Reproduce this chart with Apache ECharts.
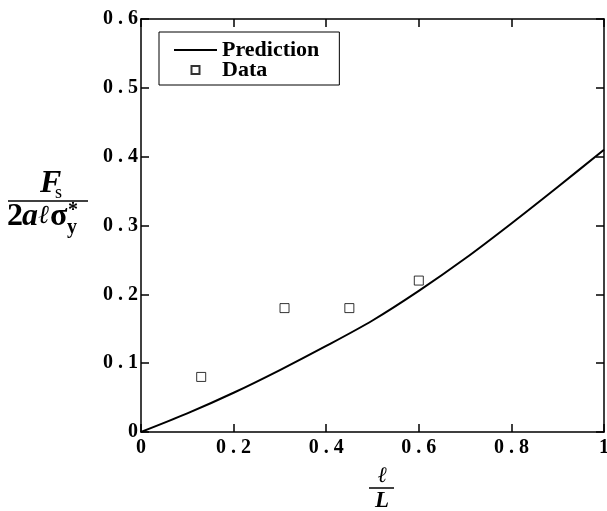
<!DOCTYPE html>
<html>
<head>
<meta charset="utf-8">
<script src="https://cdn.jsdelivr.net/npm/echarts@6/dist/echarts.min.js"></script>
<style>
  html, body { margin: 0; padding: 0; background: #fff; }
  #chart { width: 607px; height: 511px; }
</style>
</head>
<body>
<div id="chart"></div>
<script>
// prediction curve
const predX = [0, 0.1, 0.2, 0.3, 0.4, 0.5, 0.6, 0.7, 0.8, 0.9, 1.0];
const predY = [0, 0.027, 0.057, 0.09, 0.125, 0.162, 0.205, 0.252, 0.303, 0.356, 0.41];

// measured points
const dataX = [0.13, 0.31, 0.45, 0.6];
const dataY = [0.08, 0.18, 0.18, 0.22];

const seriesNames = ['Prediction', 'Data'];

const serif = "'Liberation Serif', 'DejaVu Serif', serif";

document.addEventListener('DOMContentLoaded', function () {
    const chart = echarts.init(document.getElementById('chart'));

    const tickFmt = function (v) {
        if (v === 0) return '0';
        if (v === 1) return '1';
        return v.toFixed(1).split('').join(' ');
    };

    const axisCommon = {
        type: 'value',
        axisLine: { show: true, onZero: false, lineStyle: { color: '#000', width: 1.5 } },
        axisTick: { show: true, inside: true, length: 8, lineStyle: { color: '#000', width: 1.5 } },
        splitLine: { show: false }
    };
    const labelStyle = {
        color: '#000',
        fontFamily: serif,
        fontWeight: 'bold',
        fontSize: 20,
        formatter: tickFmt
    };

    const txt = (text, x, y, font, align) => ({
        type: 'text',
        style: { text: text, x: x, y: y, textAlign: align || 'left', textVerticalAlign: 'middle', font: font + ' ' + serif, fill: '#000' }
    });

    const option = {
        animation: false,
        backgroundColor: '#fff',
        grid: { left: 141, right: 3, top: 19, bottom: 79, outerBoundsMode: 'none' },
        xAxis: [
            Object.assign({}, axisCommon, {
                position: 'bottom', min: 0, max: 1, interval: 0.2,
                axisLabel: Object.assign({ margin: 6 }, labelStyle)
            }),
            Object.assign({}, axisCommon, {
                position: 'top', min: 0, max: 1, interval: 0.2,
                axisLabel: { show: false }
            })
        ],
        yAxis: [
            Object.assign({}, axisCommon, {
                position: 'left', min: 0, max: 0.6, interval: 0.1,
                axisLabel: Object.assign({ margin: 3 }, labelStyle)
            }),
            Object.assign({}, axisCommon, {
                position: 'right', min: 0, max: 0.6, interval: 0.1,
                axisLabel: { show: false }
            })
        ],
        legend: {
            data: [
                { name: seriesNames[0], itemStyle: { color: 'rgba(0,0,0,0)', borderWidth: 0, opacity: 0 } },
                seriesNames[1]
            ],
            orient: 'vertical',
            left: 159,
            top: 32,
            padding: [7, 20, 4, 14],
            itemGap: -2,
            itemWidth: 43,
            itemHeight: 8,
            borderColor: '#000',
            borderWidth: 1,
            backgroundColor: '#fff',
            textStyle: {
                color: '#000',
                fontFamily: serif,
                fontWeight: 'bold',
                fontSize: 22,
                lineHeight: 19
            }
        },
        series: [
            {
                name: seriesNames[0],
                type: 'line',
                data: predX.map((x, i) => [x, predY[i]]),
                smooth: 0.3,
                symbol: 'none',
                lineStyle: { color: '#000', width: 2 },
                itemStyle: { color: '#000' }
            },
            {
                name: seriesNames[1],
                type: 'scatter',
                data: dataX.map((x, i) => [x, dataY[i]]),
                symbol: 'path://M0,0H10V10H0Z',
                symbolKeepAspect: true,
                symbolSize: 9,
                itemStyle: { color: 'rgba(0,0,0,0)', borderColor: '#000', borderWidth: 1 }
            }
        ],
        graphic: [
            // y axis title: F_s over 2 a l sigma*_y
            txt('F', 40, 184, 'italic bold 32px'),
            txt('s', 55, 193, '18px'),
            { type: 'line', shape: { x1: 8, y1: 201, x2: 88, y2: 201 }, style: { stroke: '#000', lineWidth: 1.5 } },
            txt('2', 7, 217, 'bold 32px'),
            txt('a', 22, 217, 'italic bold 32px'),
            txt('ℓ', 38, 216, 'italic 26px'),
            txt('σ', 50, 217, 'bold 32px'),
            txt('*', 68, 211, 'bold 20px'),
            txt('y', 67, 228, 'bold 20px'),
            // x axis title: l over L
            txt('ℓ', 382, 476, 'italic 22px', 'center'),
            { type: 'line', shape: { x1: 369, y1: 488, x2: 394, y2: 488 }, style: { stroke: '#000', lineWidth: 1.5 } },
            txt('L', 382, 501, 'italic bold 23px', 'center')
        ]
    };

    chart.setOption(option);

    window.addEventListener('resize', () => {
        chart.resize();
    });
});
</script>
</body>
</html>
